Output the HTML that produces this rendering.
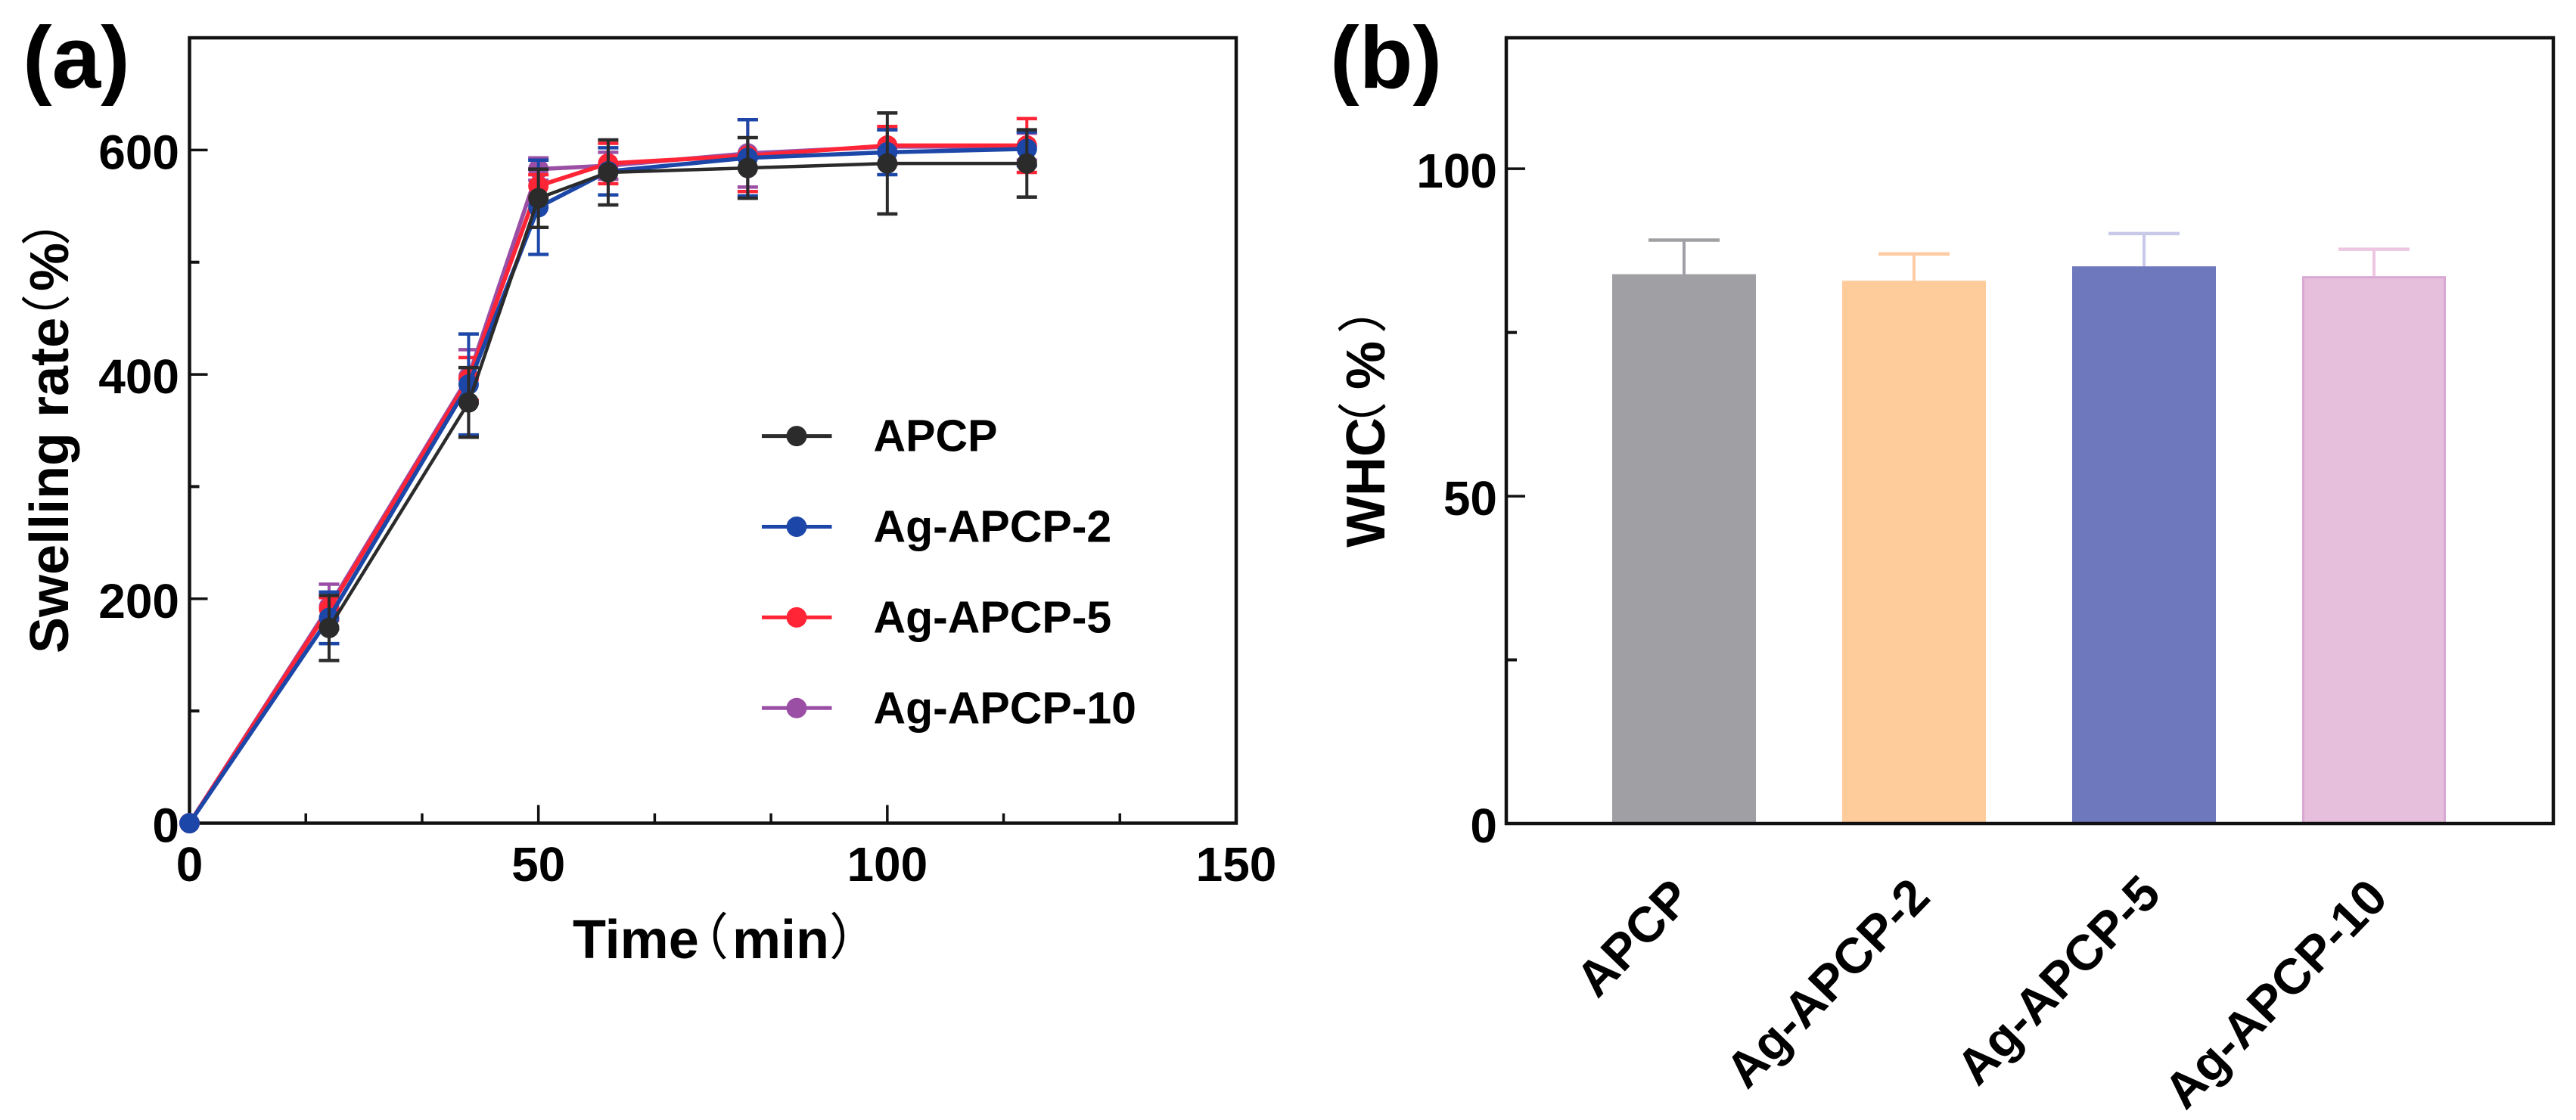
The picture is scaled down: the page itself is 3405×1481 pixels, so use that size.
<!DOCTYPE html>
<html lang="en">
<head>
<meta charset="utf-8">
<title>Swelling rate and WHC charts</title>
<style>
html,body{margin:0;padding:0;background:#fff;width:3405px;height:1481px;overflow:hidden}
svg{display:block}
text{font-family:"Liberation Sans","Noto Sans CJK SC",sans-serif;fill:#000}
.b{font-weight:700}
.p{font-family:"Noto Sans CJK SC","Liberation Sans",sans-serif;font-weight:400}
</style>
</head>
<body>
<svg id="fig" xmlns="http://www.w3.org/2000/svg" width="3405" height="1481" viewBox="0 0 3405 1481">
  <rect x="0" y="0" width="3405" height="1481" fill="#fff"/>
  <g id="panelA"></g>
  <g id="panelB"></g>

  <text class="b" x="30" y="116" font-size="116">(a)</text>
  <text class="b" x="1758" y="116" font-size="116">(b)</text>

  <g>
    <text class="b" x="757" y="1267" font-size="72">Time</text>
    <text class="p" x="897" y="1262" font-size="66">（</text>
    <text class="b" x="968" y="1267" font-size="72">min</text>
    <text class="p" x="1096" y="1262" font-size="66">）</text>
  </g>
  <g>
    <text class="b" transform="translate(90,864) rotate(-90)" font-size="72">Swelling rate</text>
    <text class="p" transform="translate(85,455) rotate(-90)" font-size="66">（</text>
    <text class="b" transform="translate(90,385) rotate(-90)" font-size="72">%</text>
    <text class="p" transform="translate(85,325) rotate(-90)" font-size="66">）</text>
  </g>
  <g>
    <text class="b" transform="translate(1830,724) rotate(-90)" font-size="72">WHC</text>
    <text class="p" transform="translate(1825,597) rotate(-90)" font-size="66">（</text>
    <text class="b" transform="translate(1830,515) rotate(-90)" font-size="72">%</text>
    <text class="p" transform="translate(1825,441) rotate(-90)" font-size="66">）</text>
  </g>
</svg>
<script>
// ---- Panel (a) data ----
const timeValues = [0, 20, 40, 50, 60, 80, 100, 120];
const seriesNames = ['Ag-APCP-10', 'Ag-APCP-5', 'Ag-APCP-2', 'APCP'];
const purpleValues = [0, 193, 398, 583, 586, 597, 603, 603];
const purpleErrors = [0, 20, 24, 10, 12, 30, 15, 12];
const redValues = [0, 191, 396, 568, 588, 595, 604, 604];
const redErrors = [0, 10, 19, 10, 18, 32, 17, 24];
const blueValues = [0, 183, 391, 549, 581, 593, 598, 601];
const blueErrors = [0, 23, 45, 42, 21, 34, 20, 15];
const blackValues = [null, 174, 375, 557, 580, 584, 588, 588];
const blackErrors = [null, 29, 31, 26, 29, 27, 45, 30];
const xTickLabels = [0, 50, 100, 150];
const xMinorTicks = [16.667, 33.333, 66.667, 83.333, 116.667, 133.333];
const yTickLabels = [0, 200, 400, 600];
const yMinorTicks = [100, 300, 500];
const legendOrder = ['APCP', 'Ag-APCP-2', 'Ag-APCP-5', 'Ag-APCP-10'];

// ---- Panel (b) data ----
const whcCategories = ['APCP', 'Ag-APCP-2', 'Ag-APCP-5', 'Ag-APCP-10'];
const whcValues = [83.9, 82.9, 85.1, 83.6];
const whcErrors = [5.2, 4.1, 5.0, 4.1];
const whcTickLabels = [0, 50, 100];
const whcMinorTicks = [25, 75];

const NS = 'http://www.w3.org/2000/svg';
const panelA = document.getElementById('panelA');
const panelB = document.getElementById('panelB');

function make(parent, tag, attrs, name) {
  const el = document.createElementNS(NS, tag);
  for (const k in attrs) el.setAttribute(k, attrs[k]);
  
  
  parent.appendChild(el);
  return el;
}
function label(parent, str, x, y, size, anchor, name, extra) {
  const el = make(parent, 'text', Object.assign({x: x, y: y, 'font-size': size, 'text-anchor': anchor, 'class': 'b'}, extra || {}), name);
  el.textContent = str;
  return el;
}

// ---- Axis functions ----
const A = {left: 250.5, right: 1634, top: 50, bottom: 1088.5, xMax: 150, yMax: 700};
const xA = v => A.left + v / A.xMax * (A.right - A.left);
const yA = v => A.bottom - v / A.yMax * (A.bottom - A.top);
const B = {left: 1991, right: 3375, top: 50, bottom: 1089, yMax: 120, first: 2226, step: 304, barWidth: 190};
const xB = i => B.first + i * B.step;
const yB = v => B.bottom - v / B.yMax * (B.bottom - B.top);

// ---- Panel (a) ----
make(panelA, 'rect', {x: A.left, y: A.top, width: A.right - A.left, height: A.bottom - A.top, fill: 'none', stroke: '#111', 'stroke-width': 4.5}, 'plot-frame');

xTickLabels.forEach(v => {
  make(panelA, 'line', {x1: xA(v), x2: xA(v), y1: A.bottom, y2: A.bottom - 24, stroke: '#111', 'stroke-width': 3.5}, 'x-major-tick');
  label(panelA, String(v), xA(v), 1165, 64, 'middle', 'x-tick-label');
});
xMinorTicks.forEach(v => {
  make(panelA, 'line', {x1: xA(v), x2: xA(v), y1: A.bottom, y2: A.bottom - 13, stroke: '#111', 'stroke-width': 3.5}, 'x-minor-tick');
});
yTickLabels.forEach(v => {
  make(panelA, 'line', {x1: A.left, x2: A.left + 24, y1: yA(v), y2: yA(v), stroke: '#111', 'stroke-width': 3.5}, 'y-major-tick');
  label(panelA, String(v), 237, yA(v) + 25, 64, 'end', 'y-tick-label');
});
yMinorTicks.forEach(v => {
  make(panelA, 'line', {x1: A.left, x2: A.left + 13, y1: yA(v), y2: yA(v), stroke: '#111', 'stroke-width': 4}, 'y-minor-tick');
});

const seriesValues = [purpleValues, redValues, blueValues, blackValues];
const seriesErrors = [purpleErrors, redErrors, blueErrors, blackErrors];
const seriesColors = ['#9a4fa5', '#ff2436', '#1c47a8', '#2b2b2b'];
const seriesWidths = [5.5, 5.5, 5.5, 4.5];

seriesNames.forEach((sName, s) => {
  const group = make(panelA, 'g', {}, 'series-' + sName.toLowerCase());
  const color = seriesColors[s];
  const pts = [];
  timeValues.forEach((t, i) => {
    if (seriesValues[s][i] !== null) pts.push(xA(t) + ',' + yA(seriesValues[s][i]));
  });
  make(group, 'polyline', {points: pts.join(' '), fill: 'none', stroke: color, 'stroke-width': seriesWidths[s]}, 'series-line');
  timeValues.forEach((t, i) => {
    const v = seriesValues[s][i];
    if (v === null) return;
    const e = seriesErrors[s][i];
    if (e > 0) {
      make(group, 'line', {x1: xA(t), x2: xA(t), y1: yA(v - e), y2: yA(v + e), stroke: color, 'stroke-width': 4}, 'error-bar');
      make(group, 'line', {x1: xA(t) - 13.5, x2: xA(t) + 13.5, y1: yA(v + e), y2: yA(v + e), stroke: color, 'stroke-width': 4.5}, 'error-cap-upper');
      make(group, 'line', {x1: xA(t) - 13.5, x2: xA(t) + 13.5, y1: yA(v - e), y2: yA(v - e), stroke: color, 'stroke-width': 4.5}, 'error-cap-lower');
    }
    make(group, 'circle', {cx: xA(t), cy: yA(v), r: 13.5, fill: color}, 'data-point');
  });
});

// Legend
const legendColors = ['#2b2b2b', '#1c47a8', '#ff2436', '#9a4fa5'];
const legend = make(panelA, 'g', {}, 'legend');
legendOrder.forEach((name, i) => {
  const y = 576.6 + i * 119.9;
  const entry = make(legend, 'g', {}, 'legend-entry');
  make(entry, 'line', {x1: 1007, x2: 1099.5, y1: y, y2: y, stroke: legendColors[i], 'stroke-width': 5}, 'legend-line');
  make(entry, 'circle', {cx: 1053, cy: y, r: 13.5, fill: legendColors[i]}, 'legend-marker');
  label(entry, name, 1154.5, y + 20, 59, 'start', 'legend-label');
});

// ---- Panel (b) ----
const barFills = ['#a09fa3', '#fecb9b', '#6d79bc', '#e6bfdd'];
const barEdges = ['#a09fa3', '#fecb9b', '#6d79bc', '#d9a9d3'];
const errColors = ['#a09fa3', '#fdcba3', '#c8c8e8', '#efc6e2'];
const labelAnchors = [[2239, 1190], [2554, 1189], [2859, 1185], [3159, 1190]];

whcCategories.forEach((cat, i) => {
  const group = make(panelB, 'g', {}, 'bar-group-' + cat.toLowerCase());
  const x = xB(i);
  const top = yB(whcValues[i]);
  const capY = yB(whcValues[i] + whcErrors[i]);
  make(group, 'line', {x1: x, x2: x, y1: top, y2: capY, stroke: errColors[i], 'stroke-width': 4}, 'bar-error-stem');
  make(group, 'line', {x1: x - 47, x2: x + 47, y1: capY, y2: capY, stroke: errColors[i], 'stroke-width': 4.5}, 'bar-error-cap');
  make(group, 'rect', {x: x - B.barWidth / 2 + 1.5, y: top + 1.5, width: B.barWidth - 3, height: B.bottom - top - 1.5, fill: barFills[i], stroke: barEdges[i], 'stroke-width': 3}, 'bar');
  const a = labelAnchors[i];
  label(panelB, cat, a[0], a[1], 66, 'end', 'x-category-label', {transform: 'rotate(-46 ' + a[0] + ' ' + a[1] + ')'});
});

make(panelB, 'rect', {x: B.left, y: B.top, width: B.right - B.left, height: B.bottom - B.top, fill: 'none', stroke: '#111', 'stroke-width': 4.5}, 'plot-frame');
whcTickLabels.forEach(v => {
  make(panelB, 'line', {x1: B.left, x2: B.left + 25, y1: yB(v), y2: yB(v), stroke: '#111', 'stroke-width': 3.5}, 'y-major-tick');
  label(panelB, String(v), 1979, yB(v) + 25, 64, 'end', 'y-tick-label');
});
whcMinorTicks.forEach(v => {
  make(panelB, 'line', {x1: B.left, x2: B.left + 14, y1: yB(v), y2: yB(v), stroke: '#111', 'stroke-width': 4}, 'y-minor-tick');
});
</script>
</body>
</html>
